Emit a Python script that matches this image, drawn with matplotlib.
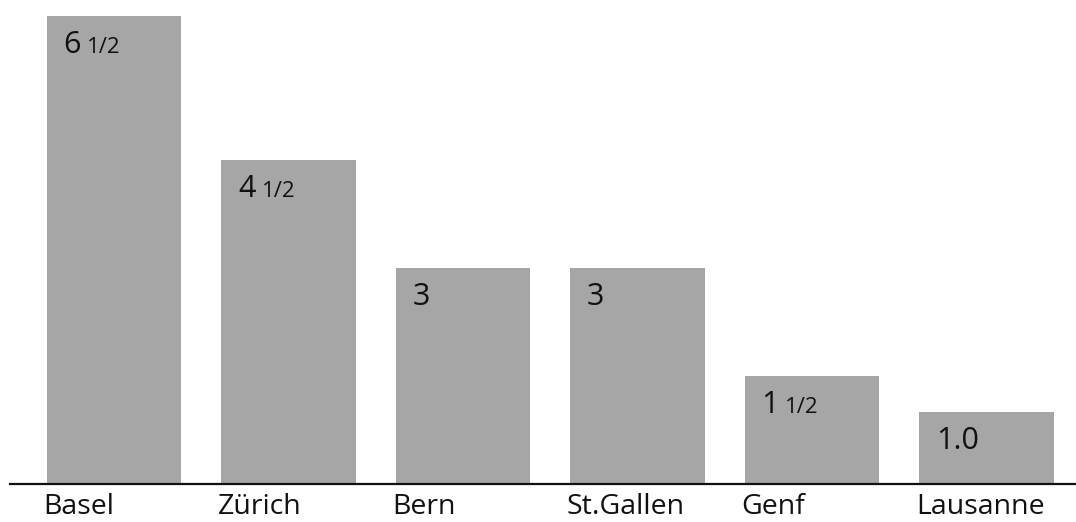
import matplotlib.pyplot as plt

cities = ['Basel', 'Zürich', 'Bern', 'St.Gallen', 'Genf', 'Lausanne']
values = [6.5, 4.5, 3, 3, 1.5, 1.0]
whole_labels = ['6', '4', '3', '3', '1', '1.0']
frac_labels = ['1/2', '1/2', '', '', '1/2', '']

plt.rcParams['font.family'] = ['Open Sans', 'DejaVu Sans']

fig = plt.figure(figsize=(10.76, 5.22), dpi=100)
ax = fig.add_axes([10 / 1076, 38 / 522, 1066 / 1076, 484 / 522])

x = list(range(len(cities)))
width = 0.77
ax.bar(x, values, width=width, color='#a6a6a6', zorder=1)

ax.set_xlim(-0.596, 5.513)
ax.set_ylim(0, 6.72)

# only the baseline stays
for side in ['top', 'right', 'left']:
    ax.spines[side].set_visible(False)
ax.spines['bottom'].set_linewidth(1.6)
ax.spines['bottom'].set_color('#111111')
ax.set_xticks([])
ax.set_yticks([])

# city names, left aligned under each bar
for xi, name in zip(x, cities):
    ax.text(xi - width / 2 - 0.02, -0.061, name, transform=ax.get_xaxis_transform(),
            ha='left', va='baseline', fontsize=20.5, color='#111111')

# value inside the top of each bar, halves set smaller
for xi, v, w, fr in zip(x, values, whole_labels, frac_labels):
    t = ax.annotate(w, xy=(xi - width / 2, v), xytext=(12, -27), textcoords='offset points',
                    ha='left', va='baseline', fontsize=22, color='#111111')
    if fr:
        ax.annotate(fr, xy=(1, v), xycoords=(t, 'data'), xytext=(4.5, -27),
                    textcoords='offset points', ha='left', va='baseline',
                    fontsize=16, color='#111111')

fig.savefig('out.png', dpi=100)
